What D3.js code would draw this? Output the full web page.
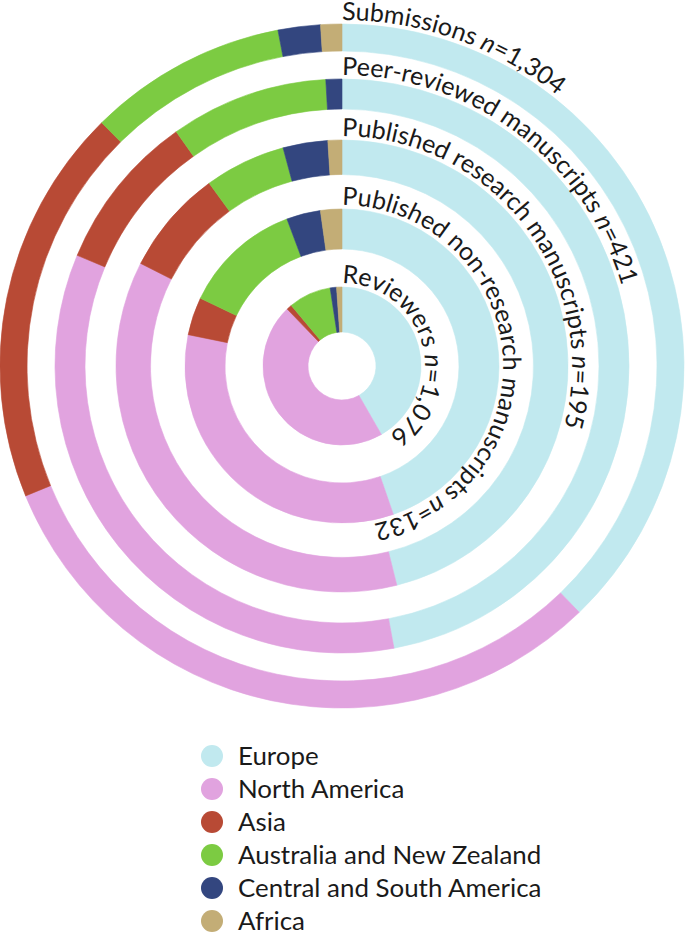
<!DOCTYPE html>
<html>
<head>
<meta charset="utf-8">
<script src="https://cdn.jsdelivr.net/npm/d3@7"></script>
<style>
  html, body { margin: 0; padding: 0; background: #ffffff; }
  svg { display: block; }
  text { font-family: Lato, "Open Sans", "DejaVu Sans", sans-serif; font-weight: 400; fill: #1a1a1a; }
</style>
</head>
<body>
<svg id="chart" width="685" height="933"></svg>
<script>
// ---- data ----
const regions = ["Europe", "North America", "Asia", "Australia and New Zealand", "Central and South America", "Africa"];
const regionColors = ["#c1e9ef", "#e1a3df", "#b84a35", "#7ccb42", "#33467f", "#c3ad76"];
const ringLabels = ["Submissions", "Peer-reviewed manuscripts", "Published research manuscripts", "Published non-research manuscripts", "Reviewers"];
const ringN = ["1,304", "421", "195", "132", "1,076"];
// share (%) per region, in the order of `regions`
const submissionsShare  = [37.8, 31.0, 18.8, 9.4, 2.0, 1.0];
const peerReviewedShare = [47.1, 34.2, 8.9, 8.9, 0.9, 0.0];
const researchShare     = [46.1, 36.4, 7.5, 5.8, 3.2, 1.0];
const nonResearchShare  = [44.7, 33.5, 3.9, 12.2, 3.5, 2.2];
const reviewersShare    = [41.7, 46.1, 1.1, 8.7, 1.3, 1.1];
const ringShares = [submissionsShare, peerReviewedShare, researchShare, nonResearchShare, reviewersShare];

// ---- layout ----
const cx = 342, cy = 366;
const ringRadii = [[315, 342], [257, 287], [191.5, 226], [117, 157], [34, 79]];
const labelOffset = 4;

const svg = d3.select("#chart");
const g = svg.append("g").attr("transform", `translate(${cx},${cy})`);
const color = d3.scaleOrdinal().domain(regions).range(regionColors);
const pie = d3.pie().sort(null).value(d => d.v);

ringShares.forEach((shares, i) => {
  const [r0, r1] = ringRadii[i];
  const arc = d3.arc().innerRadius(r0).outerRadius(r1);
  const data = pie(shares.map((v, j) => ({ v, region: regions[j] })));
  g.append("g").selectAll("path")
    .data(data.filter(d => d.data.v > 0))
    .join("path")
    .attr("d", arc)
    .attr("fill", d => color(d.data.region))
    .attr("stroke", d => color(d.data.region))
    .attr("stroke-width", 0.6);
});

// ring labels along arcs
ringLabels.forEach((lab, i) => {
  const r = ringRadii[i][1] + labelOffset;
  const id = "lp" + i;
  g.append("path")
    .attr("id", id)
    .attr("fill", "none")
    .attr("d", `M0,${-r} A${r},${r} 0 1 1 0,${r} A${r},${r} 0 1 1 0,${-r}`);
  const t = g.append("text").style("font-size", "25px");
  const tp = t.append("textPath").attr("href", "#" + id).attr("startOffset", 0);
  tp.append("tspan").text(lab + " ");
  tp.append("tspan").style("font-style", "italic").text("n");
  tp.append("tspan").text("=" + ringN[i]);
});

// legend
const legend = svg.append("g").attr("transform", "translate(212,756)");
const rowH = 33;
const rows = legend.selectAll("g").data(regions).join("g")
  .attr("transform", (d, i) => `translate(0,${i * rowH})`);
rows.append("circle").attr("r", 11).attr("fill", d => color(d));
rows.append("text").attr("x", 26).attr("y", 9).style("font-size", "25.9px").text(d => d);
</script>
</body>
</html>
